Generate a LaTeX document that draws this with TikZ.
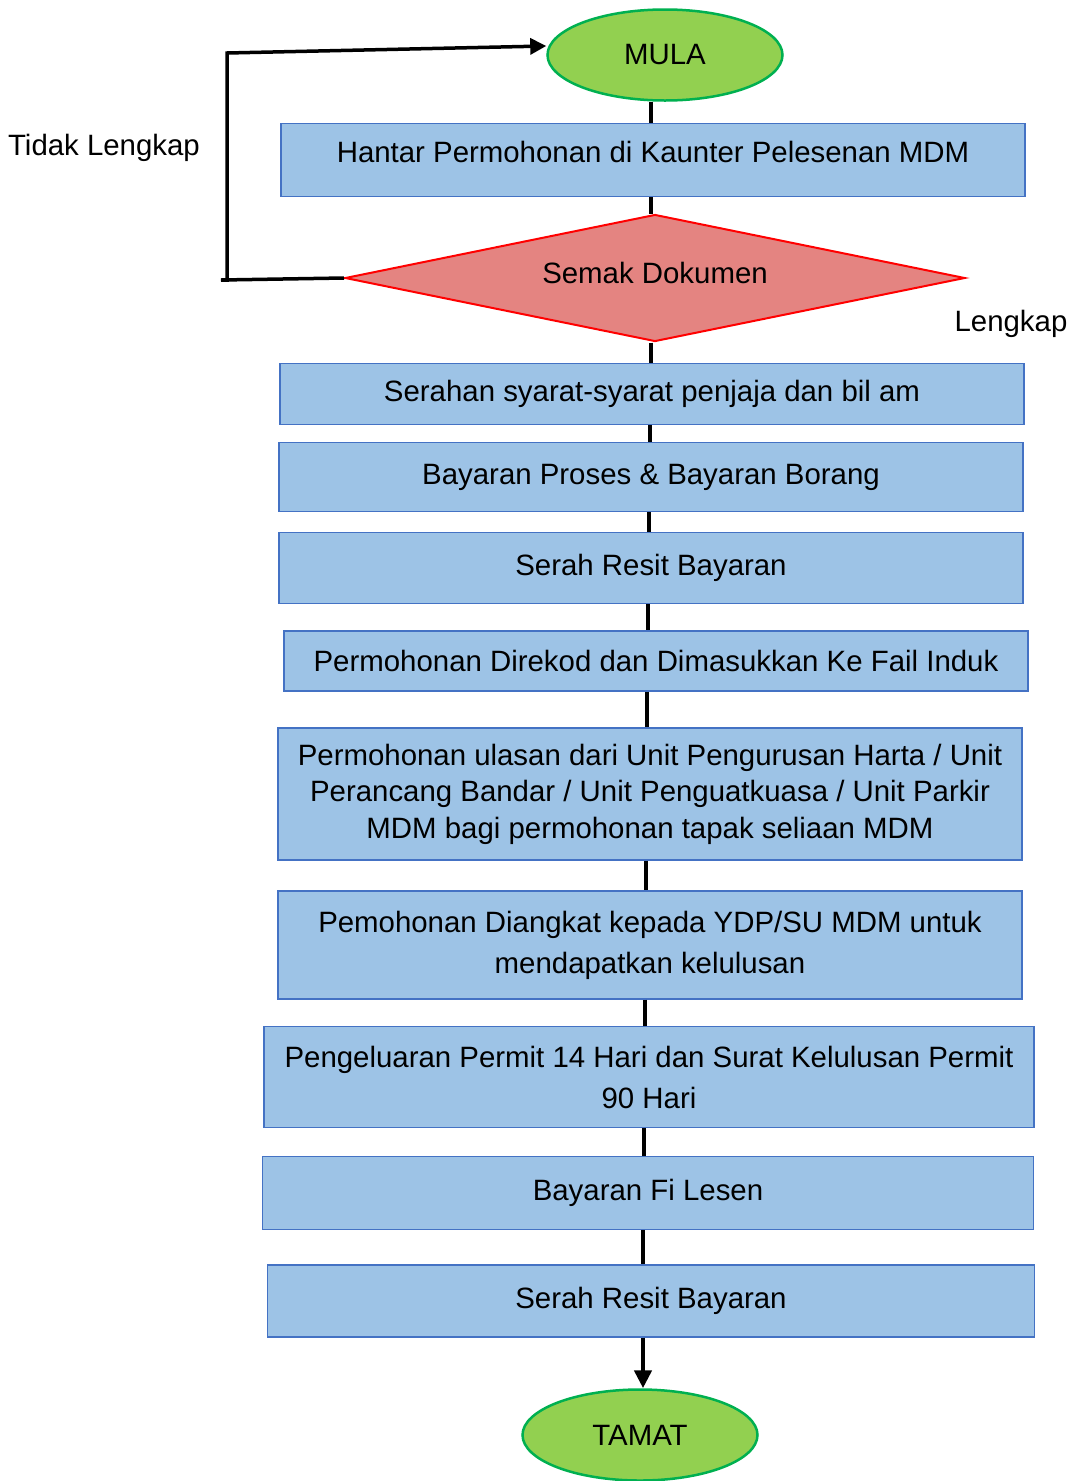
\documentclass[tikz,border=0pt]{standalone}
\usepackage{fontspec}
\setmainfont{Liberation Sans}
\usetikzlibrary{shapes.geometric, positioning, arrows.meta}
\definecolor{boxfill}{HTML}{9DC3E6}
\definecolor{boxline}{HTML}{4472C4}
\definecolor{termfill}{HTML}{92D050}
\definecolor{termline}{HTML}{00B050}
\definecolor{decfill}{HTML}{E48481}

\begin{document}
\begin{tikzpicture}[x=1pt, y=-1pt]
    \tikzset{stepbox/.style={rectangle,draw=boxline,fill=boxfill,line width=1.2pt,inner sep=0pt,minimum width=744pt,align=center,font=\fontsize{29.4}{36.5}\selectfont}}
    \tikzset{term/.style={ellipse,draw=termline,fill=termfill,line width=2.5pt,inner sep=0pt,minimum width=235pt,minimum height=91pt,font=\fontsize{29.4}{34}\selectfont}}
    \tikzset{decision/.style={diamond,draw=red,fill=decfill,line width=2pt,inner sep=0pt,aspect=4.88,minimum width=620pt,minimum height=127pt,font=\fontsize{29.4}{34}\selectfont}}
    \tikzset{flow/.style={line width=4.5pt}}
    \tikzset{label/.style={font=\fontsize{29.4}{34}\selectfont}}
    \useasboundingbox (0,0) rectangle (1071,1481);

    \node[term] at (665,55) (mula) {MULA};
    \node[stepbox, minimum height=73pt, text depth=17pt] at (653,160) (hantar) {Hantar Permohonan di Kaunter Pelesenan MDM};
    \node[decision, text depth=10pt] at (655,278) (semak) {Semak Dokumen};
    \node[stepbox, minimum height=61pt] at (652,394) (serahan) {Serahan syarat-syarat penjaja dan bil am};
    \node[stepbox, minimum height=69pt] at (651,477) (proses) {Bayaran Proses \& Bayaran Borang};
    \node[stepbox, minimum height=71pt] at (651,568) (resit) {Serah Resit Bayaran};
    \node[stepbox, minimum height=60pt] at (656,661) (direkod) {Permohonan Direkod dan Dimasukkan Ke Fail Induk};
    \node[stepbox, minimum height=132pt] at (650,794) (ulasan) {Permohonan ulasan dari Unit Pengurusan Harta / Unit\\Perancang Bandar / Unit Penguatkuasa / Unit Parkir\\MDM bagi permohonan tapak seliaan MDM};
    \node[stepbox, minimum height=108pt, font=\fontsize{29.4}{41}\selectfont] at (650,945) (diangkat) {Pemohonan Diangkat kepada YDP/SU MDM untuk\\mendapatkan kelulusan};
    \node[stepbox, minimum height=101pt, minimum width=770pt, font=\fontsize{29.4}{41}\selectfont] at (649,1077) (permit) {Pengeluaran Permit 14 Hari dan Surat Kelulusan Permit\\90 Hari};
    \node[stepbox, minimum height=73pt, minimum width=771pt] at (648,1193) (fi) {Bayaran Fi Lesen};
    \node[stepbox, minimum height=72pt, minimum width=767pt] at (651,1301) (resitfi) {Serah Resit Bayaran};
    \node[term] at (640,1435) (tamat) {TAMAT};

    \node[label] at (104,148) (tidak) {Tidak Lengkap};
    \node[label] at (1011,324) (lengkap) {Lengkap};

    % main flow
    \draw[flow] (mula.south -| 651,0) -- (hantar.north -| 651,0);
    \draw[flow] (hantar.south -| 651,0) -- (semak.north -| 651,0);
    \draw[flow] (semak.south -| 651,0) -- (serahan.north -| 651,0);
    \draw[flow] (serahan.south -| 650,0) -- (proses.north -| 650,0);
    \draw[flow] (proses.south -| 649,0) -- (resit.north -| 649,0);
    \draw[flow] (resit.south -| 648,0) -- (direkod.north -| 648,0);
    \draw[flow] (direkod.south -| 647,0) -- (ulasan.north -| 647,0);
    \draw[flow] (ulasan.south -| 646,0) -- (diangkat.north -| 646,0);
    \draw[flow] (diangkat.south -| 645,0) -- (permit.north -| 645,0);
    \draw[flow] (permit.south -| 644,0) -- (fi.north -| 644,0);
    \draw[flow] (fi.south -| 643,0) -- (resitfi.north -| 643,0);
    \draw[flow, -{Triangle[length=18pt,width=17pt]}] (resitfi.south -| 643,0) -- (tamat.north -| 643,0);

    % back to start
    \coordinate (lowturn) at (227,280);
    \coordinate (upturn) at (227,53);
    \draw[line width=3.5pt, -{Triangle[length=16pt,width=16pt]}] (semak.west) -- ([xshift=-6pt]lowturn) -- (lowturn) -- (upturn) -- ([yshift=9pt]mula.west);
\end{tikzpicture}
\end{document}
